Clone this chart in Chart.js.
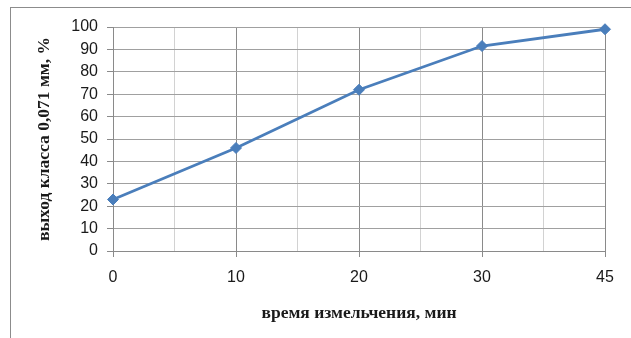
<!DOCTYPE html>
<html lang="ru">
<head>
<meta charset="UTF-8">
<title>Выход класса 0,071 мм</title>
<script src="https://cdn.jsdelivr.net/npm/chart.js"></script>
<style>
    html, body { margin: 0; padding: 0; background: #fff; overflow: hidden; }
    #wrap { position: relative; width: 631px; height: 338px; }
    #frame {
        position: absolute; left: 10px; top: 7px; right: 0; bottom: 0;
        border-left: 1px solid #8c8c8c; border-top: 1px solid #8c8c8c;
    }
    #c { position: absolute; left: 0; top: 0; }
</style>
</head>
<body>
<div id="wrap">
    <div id="frame"></div>
    <canvas id="c" width="631" height="338"></canvas>
</div>
<script>
    // time of grinding, min (equally spaced categories)
    const timeLabels = ['0', '10', '20', '30', '45'];
    // yield of the -0.071 mm class, %
    const yieldValues = [23, 46, 72, 91.5, 99];
    const yMin = 0, yMax = 100, yStep = 10;

    const majorGrid = '#8a8a8a';
    const minorGrid = '#d2d2d2';
    const isMajor = ctx => ctx.tick && Number.isInteger(ctx.tick.value);
    const tickFont = { family: "'Liberation Sans', Arial, sans-serif", size: 16 };
    const titleFont = { family: "'Liberation Serif', 'Times New Roman', serif", size: 17.5, weight: 'bold' };

    const points = yieldValues.map((v, i) => ({ x: i, y: v }));

    new Chart(document.getElementById('c'), {
        type: 'line',
        data: {
            datasets: [{
                data: points,
                borderColor: '#4a7ebb',
                backgroundColor: '#4a7ebb',
                borderWidth: 2.8,
                pointStyle: 'rectRot',
                pointRadius: 5.5,
                pointBorderWidth: 1,
                tension: 0,
                clip: false
            }]
        },
        options: {
            responsive: false,
            animation: false,
            layout: { padding: { top: 27, right: 26, left: 0, bottom: 0 } },
            plugins: { legend: { display: false }, tooltip: { enabled: false } },
            scales: {
                x: {
                    type: 'linear',
                    min: 0,
                    max: timeLabels.length - 1,
                    afterFit: s => { s.height = 87; },
                    afterBuildTicks: s => {
                        const t = [];
                        for (let v = 0; v <= timeLabels.length - 1; v += 0.5) t.push({ value: v });
                        s.ticks = t;
                    },
                    ticks: {
                        autoSkip: false,
                        maxRotation: 0,
                        padding: 11,
                        color: '#1a1a1a',
                        font: tickFont,
                        callback: v => Number.isInteger(v) ? timeLabels[v] : ''
                    },
                    grid: {
                        color: ctx => isMajor(ctx) ? majorGrid : minorGrid,
                        tickColor: ctx => isMajor(ctx) ? majorGrid : 'rgba(0,0,0,0)',
                        tickLength: 6,
                        lineWidth: 1
                    },
                    border: { color: majorGrid },
                    title: {
                        display: true,
                        text: 'время измельчения, мин',
                        color: '#1a1a1a',
                        font: titleFont,
                        padding: { bottom: 14 }
                    }
                },
                y: {
                    min: yMin,
                    max: yMax,
                    afterFit: s => { s.width = 113; },
                    ticks: {
                        stepSize: yStep,
                        padding: 9,
                        color: '#1a1a1a',
                        font: tickFont
                    },
                    grid: { color: '#a0a0a0', tickColor: majorGrid, tickLength: 6 },
                    border: { color: majorGrid },
                    title: {
                        display: true,
                        text: 'выход класса 0,071 мм, %',
                        color: '#1a1a1a',
                        font: titleFont,
                        padding: { top: 34 }
                    }
                }
            }
        }
    });
</script>
</body>
</html>
